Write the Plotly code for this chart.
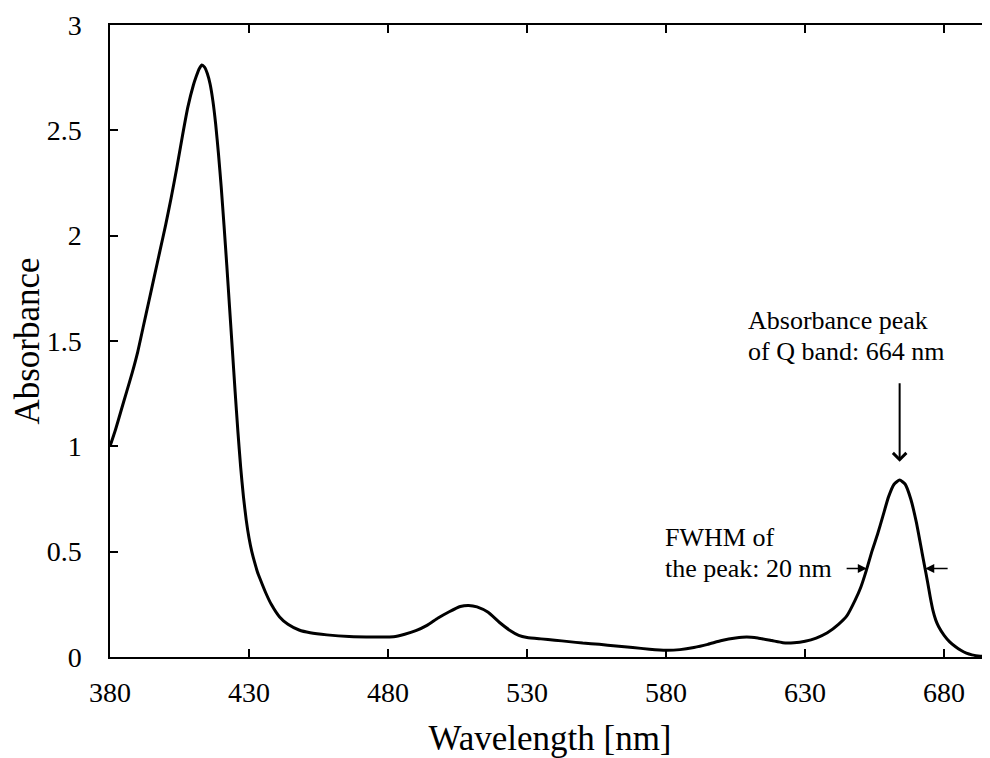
import plotly.graph_objects as go

wavelength = [380, 382, 384, 386, 388, 390, 392, 394, 396, 398, 400, 402, 404, 406, 408, 410,
              411, 412, 413, 414, 415, 416, 417, 418, 419, 420, 421, 422, 423, 424, 425, 426,
              427, 428, 429, 430, 431, 432, 433, 434, 436, 438, 441, 444,
              448, 452, 458, 466, 475, 482, 486, 490, 494, 498, 502, 506, 509, 512, 516, 520,
              524, 527, 530, 535, 540, 545, 550, 556, 562, 568, 574, 580, 585, 590, 595, 600, 605,
              609, 613, 618, 622, 626, 630, 634, 638, 642, 645, 648, 650, 652, 654, 656, 658,
              660, 662, 664, 666, 668, 670, 672, 673, 674, 675, 676, 677, 678, 680, 682, 684, 686, 688,
              690, 693, 696.5]
absorbance = [1.00, 1.08, 1.17, 1.26, 1.35, 1.45, 1.57, 1.69, 1.81, 1.93, 2.05, 2.18, 2.32, 2.47, 2.61, 2.715,
              2.755, 2.79, 2.81, 2.80, 2.77, 2.72, 2.64, 2.53, 2.39, 2.23, 2.05, 1.86, 1.66, 1.46, 1.26, 1.07,
              0.90, 0.76, 0.65, 0.565, 0.50, 0.45, 0.405, 0.37, 0.305, 0.25, 0.19, 0.155,
              0.128, 0.115, 0.105, 0.097, 0.095, 0.096, 0.108, 0.125, 0.150, 0.185, 0.215, 0.240, 0.245, 0.238, 0.212, 0.165,
              0.125, 0.103, 0.093, 0.086, 0.080, 0.073, 0.066, 0.060, 0.052, 0.045, 0.037, 0.032, 0.035, 0.045, 0.060, 0.078, 0.090,
              0.095, 0.090, 0.078, 0.068, 0.068, 0.075, 0.090, 0.115, 0.155, 0.195, 0.27, 0.33, 0.41, 0.50, 0.58, 0.67,
              0.76, 0.82, 0.84, 0.82, 0.75, 0.64, 0.50, 0.43, 0.36, 0.285, 0.22, 0.175, 0.145, 0.103, 0.072, 0.05, 0.032, 0.018,
              0.010, 0.004, 0.002]

x_ticks = [380, 430, 480, 530, 580, 630, 680]
y_ticks = [0, 0.5, 1, 1.5, 2, 2.5, 3]
y_tick_text = ["0", "0.5", "1", "1.5", "2", "2.5", "3"]

q_peak_nm = 664
fwhm_left, fwhm_right = 652.2, 673.2

FONT = "Liberation Serif"
ANN = dict(family=FONT, size=26, color="black")

fig = go.Figure()
fig.add_trace(go.Scatter(x=wavelength, y=absorbance, mode="lines",
                         line=dict(color="black", width=3, shape="spline", smoothing=0.5),
                         hoverinfo="skip", showlegend=False))

peak_val = max(a for w, a in zip(wavelength, absorbance) if w > 600)
half = peak_val / 2

annotations = [
    dict(x=q_peak_nm, y=peak_val + 0.087, ax=q_peak_nm, ay=peak_val + 0.467,
         xref="x", yref="y", axref="x", ayref="y", text="", showarrow=True,
         arrowhead=4, arrowsize=1.3, arrowwidth=2, arrowcolor="black", standoff=0),
    dict(x=fwhm_left, y=half, ax=fwhm_left - 7.8, ay=half, xref="x", yref="y",
         axref="x", ayref="y", text="", showarrow=True, arrowhead=2, arrowsize=1.2,
         arrowwidth=1.5, arrowcolor="black", standoff=0),
    dict(x=fwhm_right, y=half, ax=fwhm_right + 8.6, ay=half, xref="x", yref="y",
         axref="x", ayref="y", text="", showarrow=True, arrowhead=2, arrowsize=1.2,
         arrowwidth=1.5, arrowcolor="black", standoff=0),
    dict(x=608.8, y=1.595, xref="x", yref="y", text="Absorbance peak", showarrow=False,
         xanchor="left", yanchor="middle", font=ANN),
    dict(x=608.8, y=1.448, xref="x", yref="y", text="of Q band: 664 nm", showarrow=False,
         xanchor="left", yanchor="middle", font=ANN),
    dict(x=578.8, y=0.565, xref="x", yref="y", text="FWHM of", showarrow=False,
         xanchor="left", yanchor="middle", font=ANN),
    dict(x=578.8, y=0.418, xref="x", yref="y", text="the peak: 20 nm", showarrow=False,
         xanchor="left", yanchor="middle", font=ANN),
]

fig.update_layout(
    width=982, height=750,
    margin=dict(l=102, r=0, t=17, b=101, autoexpand=False),
    paper_bgcolor="white", plot_bgcolor="white",
    font=dict(family=FONT, color="black"),
    annotations=annotations,
    xaxis=dict(range=[380, 696.5], tickvals=x_ticks, ticks="inside", ticklen=8, tickwidth=1.5,
               tickcolor="black", showline=True, linewidth=1.5, linecolor="black",
               mirror="ticks", showgrid=False, zeroline=False,
               tickfont=dict(family=FONT, size=28, color="black"), ticklabelstandoff=10,
               title=dict(text="Wavelength [nm]", font=dict(family=FONT, size=35, color="black"),
                          standoff=20)),
    yaxis=dict(range=[0, 3], tickvals=y_ticks, ticktext=y_tick_text, ticks="inside", ticklen=8,
               tickwidth=1.5, tickcolor="black", showline=True, linewidth=1.5, linecolor="black",
               mirror=False, showgrid=False, zeroline=False,
               tickfont=dict(family=FONT, size=28, color="black"), ticklabelstandoff=21,
               title=dict(text="Absorbance", font=dict(family=FONT, size=35, color="black"),
                          standoff=12)),
)

fig.write_html("out.html")
